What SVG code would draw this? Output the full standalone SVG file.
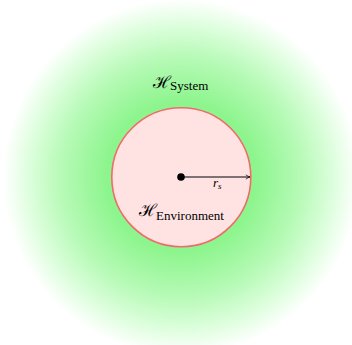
<svg xmlns="http://www.w3.org/2000/svg" width="352" height="345" viewBox="0 0 352 345">
<style>
.t{font-family:"Liberation Serif","DejaVu Serif",serif;fill:#000}
.h{font-family:"DejaVu Serif",serif;font-size:17px}
.sub{font-size:13px}
</style>
<defs>
<radialGradient id="bg" cx="181" cy="177" r="178" gradientUnits="userSpaceOnUse">
<stop offset="0" stop-color="#84f584"/>
<stop offset="0.42" stop-color="#8df58d"/>
<stop offset="0.68" stop-color="#b8fab8"/>
<stop offset="0.85" stop-color="#dcfedc"/>
<stop offset="1" stop-color="#ffffff"/>
</radialGradient>
<marker id="arr" viewBox="0 0 10 10" refX="9" refY="5" markerWidth="6" markerHeight="6" orient="auto" markerUnits="userSpaceOnUse">
<path d="M2,1.5 Q6,4 9,5 Q6,6 2,8.5" fill="none" stroke="#000" stroke-width="1.2"/>
</marker>
</defs>
<rect width="352" height="345" fill="#fff"/>
<circle cx="181" cy="177" r="178" fill="url(#bg)"/>
<g id="environment">
<circle cx="181.3" cy="177.2" r="69.5" fill="#ffe3e3" stroke="#f26a6a" stroke-width="1.6"/>
<text class="t" x="139" y="216"><tspan class="h">ℋ</tspan><tspan class="sub" dx="-1" dy="4">Environment</tspan></text>
</g>
<g id="system">
<text class="t" x="153" y="88"><tspan class="h">ℋ</tspan><tspan class="sub" dx="-1" dy="2">System</tspan></text>
</g>
<g id="connectors">
<circle cx="181" cy="177" r="3.8" fill="#000"/>
<line x1="181" y1="177" x2="250" y2="177" stroke="#000" stroke-width="1" marker-end="url(#arr)"/>
<text class="t" x="213" y="187" font-size="13" font-style="italic">r<tspan font-size="9" dy="2">s</tspan></text>
</g>
</svg>
